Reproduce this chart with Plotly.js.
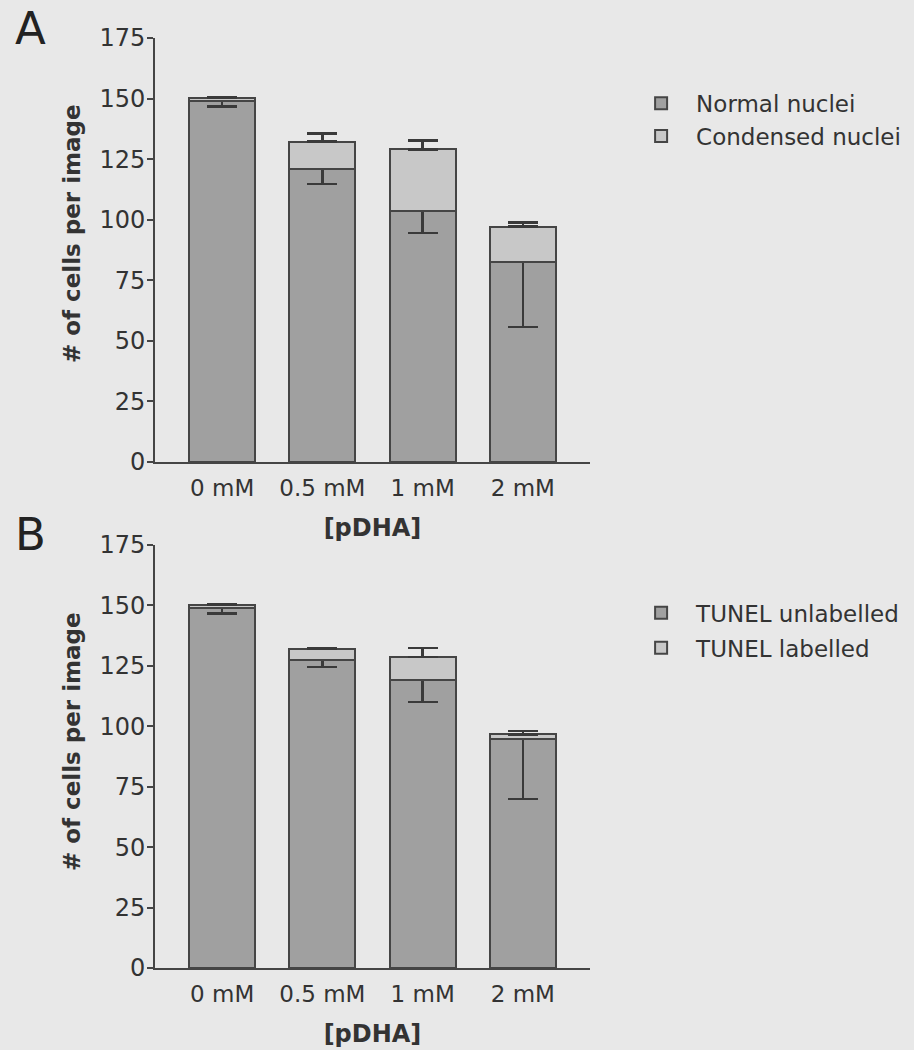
<!DOCTYPE html>
<html>
<head>
<meta charset="utf-8">
<script src="https://cdn.plot.ly/plotly-3.0.1.min.js"></script>
<style>html,body{margin:0;padding:0;background:#e8e8e8;}</style>
</head>
<body>
<div id="chart" style="width:914px;height:1050px;"></div>
<script>
// Categories
var categories = ["0 mM", "0.5 mM", "1 mM", "2 mM"];

// Panel A: nuclei morphology
var normalNuclei = [149, 121, 103.5, 82.7];
var normalNucleiErr = [2.3, 6.3, 9.0, 27.0];
var condensedNuclei = [1.2, 11.2, 25.5, 14.4];
var condensedNucleiErr = [0.5, 3.4, 3.6, 1.8];

// Panel B: TUNEL labelling
var tunelUnlabelled = [149, 127.5, 119.2, 94.8];
var tunelUnlabelledErr = [2.4, 3.0, 9.2, 24.8];
var tunelLabelled = [1.2, 4.4, 9.4, 1.9];
var tunelLabelledErr = [0.4, 0.6, 3.7, 1.4];

var yTitle = "# of cells per image";
var xTitle = "[pDHA]";

var zeros = [0, 0, 0, 0];
var darkFill = "#a0a0a0";
var lightFill = "#c8c8c8";
var edge = "#454545";
var fontFam = "DejaVu Sans, Liberation Sans, sans-serif";
var txt = "#333";

function barTrace(name, vals, err, up, fill, xa, ya, legend) {
  return {
    type: "bar", name: name, x: categories, y: vals,
    xaxis: xa, yaxis: ya, legend: legend, legendgroup: name,
    width: 0.66,
    marker: {color: fill, line: {color: edge, width: 2}},
    error_y: {
      type: "data", symmetric: false,
      array: up ? err : zeros,
      arrayminus: up ? zeros : err,
      color: "#3a3a3a", thickness: 2.5, width: 15
    },
    hoverinfo: "skip"
  };
}

var data = [
  barTrace("Normal nuclei", normalNuclei, normalNucleiErr, false, darkFill, "x", "y", "legend"),
  barTrace("Condensed nuclei", condensedNuclei, condensedNucleiErr, true, lightFill, "x", "y", "legend"),
  barTrace("TUNEL unlabelled", tunelUnlabelled, tunelUnlabelledErr, false, darkFill, "x2", "y2", "legend2"),
  barTrace("TUNEL labelled", tunelLabelled, tunelLabelledErr, true, lightFill, "x2", "y2", "legend2")
];

function yax(domain, anchor) {
  return {
    domain: domain, anchor: anchor, range: [0, 175],
    tickvals: [0, 25, 50, 75, 100, 125, 150, 175],
    showline: true, linecolor: edge, linewidth: 2,
    ticks: "outside", ticklen: 6, tickwidth: 2, tickcolor: edge,
    ticklabelstandoff: -3,
    showgrid: false, zeroline: false,
    tickfont: {family: fontFam, size: 24, color: txt},
    automargin: false
  };
}
function xax(anchor) {
  return {
    anchor: anchor, domain: [0, 1], range: [-0.67, 3.67],
    type: "category",
    showline: true, linecolor: edge, linewidth: 2,
    ticks: "", showgrid: false, zeroline: false,
    ticklabelstandoff: 4,
    tickfont: {family: fontFam, size: 23, color: txt},
    title: {text: "<b>" + xTitle + "</b>", font: {family: fontFam, size: 24, color: txt}, standoff: 20},
    automargin: false
  };
}

var legendCommon = {
  xref: "paper", yref: "paper", xanchor: "left", yanchor: "top",
  bgcolor: "rgba(0,0,0,0)", font: {family: fontFam, size: 23, color: txt},
  traceorder: "grouped", itemwidth: 60
};

var layout = {
  width: 914, height: 1050,
  margin: {l: 155, r: 324, t: 38, b: 82, autoexpand: false},
  paper_bgcolor: "#e8e8e8", plot_bgcolor: "#e8e8e8",
  barmode: "stack",
  showlegend: true,
  xaxis: xax("y"),
  yaxis: yax([0.5441, 1], "x"),
  xaxis2: xax("y2"),
  yaxis2: yax([0, 0.4548], "x2"),
  legend: Object.assign({x: 1.083, y: 0.953, tracegroupgap: 0}, legendCommon),
  legend2: Object.assign({x: 1.083, y: 0.405, tracegroupgap: 2}, legendCommon),
  annotations: [
    {text: "A", xref: "paper", yref: "paper", x: -0.287, y: 1.01, showarrow: false,
     font: {family: fontFam, size: 45, color: "#222"}, xanchor: "center", yanchor: "middle"},
    {text: "B", xref: "paper", yref: "paper", x: -0.287, y: 0.4656, showarrow: false,
     font: {family: fontFam, size: 45, color: "#222"}, xanchor: "center", yanchor: "middle"},
    {text: "<b>" + yTitle + "</b>", xref: "paper", yref: "paper", x: -0.1908, y: 0.7892, showarrow: false,
     textangle: -90, font: {family: fontFam, size: 23, color: txt}, xanchor: "center", yanchor: "middle"},
    {text: "<b>" + yTitle + "</b>", xref: "paper", yref: "paper", x: -0.1908, y: 0.243, showarrow: false,
     textangle: -90, font: {family: fontFam, size: 23, color: txt}, xanchor: "center", yanchor: "middle"}
  ]
};

Plotly.newPlot("chart", data, layout, {staticPlot: true, displayModeBar: false});
</script>
</body>
</html>
